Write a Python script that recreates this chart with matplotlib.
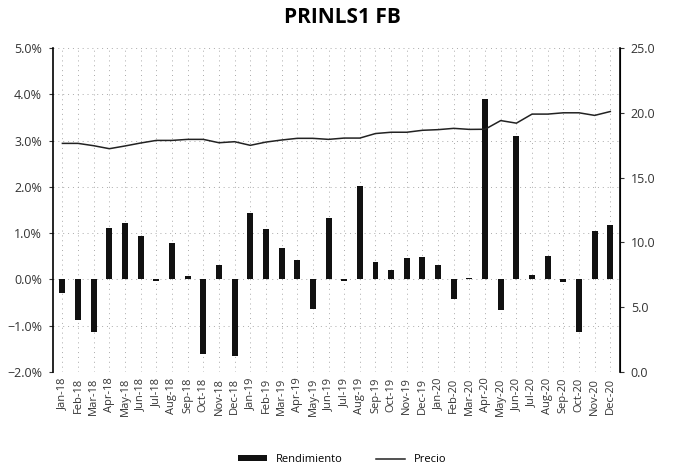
import matplotlib.pyplot as plt
import matplotlib.ticker as mticker

plt.rcParams['font.family'] = ['Open Sans', 'DejaVu Sans']

months = ['Jan-18', 'Feb-18', 'Mar-18', 'Apr-18', 'May-18', 'Jun-18', 'Jul-18', 'Aug-18',
          'Sep-18', 'Oct-18', 'Nov-18', 'Dec-18', 'Jan-19', 'Feb-19', 'Mar-19', 'Apr-19',
          'May-19', 'Jun-19', 'Jul-19', 'Aug-19', 'Sep-19', 'Oct-19', 'Nov-19', 'Dec-19',
          'Jan-20', 'Feb-20', 'Mar-20', 'Apr-20', 'May-20', 'Jun-20', 'Jul-20', 'Aug-20',
          'Sep-20', 'Oct-20', 'Nov-20', 'Dec-20']

# monthly return, %
rendimiento = [-0.29, -0.88, -1.14, 1.12, 1.21, 0.94, -0.03, 0.78,
               0.08, -1.61, 0.32, -1.65, 1.44, 1.09, 0.68, 0.41,
               -0.63, 1.33, -0.04, 2.01, 0.37, 0.21, 0.46, 0.49,
               0.32, -0.43, 0.04, 3.90, -0.66, 3.10, 0.09, 0.50,
               -0.05, -1.14, 1.04, 1.18]

# price, right axis
precio = [17.64, 17.64, 17.46, 17.23, 17.44, 17.67, 17.87, 17.87,
          17.95, 17.95, 17.69, 17.77, 17.49, 17.74, 17.90, 18.03,
          18.03, 17.95, 18.05, 18.05, 18.40, 18.50, 18.50, 18.65,
          18.70, 18.80, 18.72, 18.73, 19.40, 19.20, 19.90, 19.90,
          20.00, 20.00, 19.80, 20.10]

fig = plt.figure(figsize=(6.84, 4.66), dpi=100)
ax = fig.add_axes([0.0775, 0.2017, 0.8285, 0.6953])
x = list(range(len(months)))

ax.bar(x, [v / 100 for v in rendimiento], width=0.38, color='#111111', label='Rendimiento', zorder=3)
ax.set_ylim(-0.02, 0.05)
ax.set_xlim(-0.6, len(months) - 0.4)
ax.yaxis.set_major_locator(mticker.MultipleLocator(0.01))
ax.yaxis.set_major_formatter(mticker.PercentFormatter(1.0, decimals=1))
ax.set_xticks(x)
ax.set_xticklabels(months, rotation=90, fontsize=8, color='#333333')
ax.tick_params(axis='y', labelsize=9, colors='#333333', length=3, pad=5)
ax.tick_params(axis='x', length=0, pad=4)
ax.grid(True, linestyle=(0, (1, 4)), linewidth=0.7, color='#aaaaaa', zorder=0)

for side in ['top', 'bottom']:
    ax.spines[side].set_visible(False)
ax.spines['left'].set_linewidth(1.2)

ax2 = ax.twinx()
ax2.plot(x, precio, color='#222222', linewidth=1.1, label='Precio', zorder=4)
ax2.set_ylim(0, 25)
ax2.yaxis.set_major_locator(mticker.MultipleLocator(5))
ax2.yaxis.set_major_formatter(mticker.FormatStrFormatter('%.1f'))
ax2.tick_params(axis='y', labelsize=9, colors='#333333', length=3, pad=5)
for side in ['top', 'bottom', 'left']:
    ax2.spines[side].set_visible(False)
ax2.spines['right'].set_linewidth(1.2)

fig.suptitle('PRINLS1 FB', x=0.5, y=0.985, fontsize=15, fontweight='bold')

h1, l1 = ax.get_legend_handles_labels()
h2, l2 = ax2.get_legend_handles_labels()
fig.legend(h1 + h2, l1 + l2, loc='lower center', bbox_to_anchor=(0.5, -0.02), ncol=2,
           frameon=False, fontsize=8, handlelength=2.6, handleheight=0.45,
           columnspacing=3.0)

plt.savefig('out.png', dpi=100)
